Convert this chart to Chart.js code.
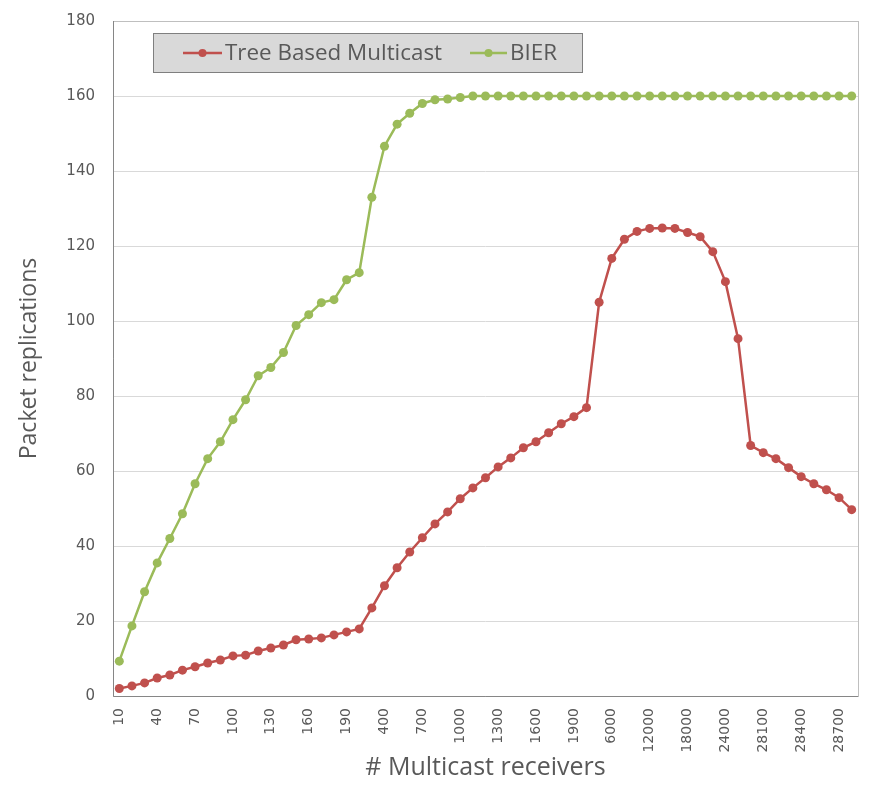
<!DOCTYPE html>
<html>
<head>
<meta charset="utf-8">
<script src="https://cdn.jsdelivr.net/npm/chart.js@4.4.1/dist/chart.umd.min.js"></script>
<style>
  html, body { margin: 0; padding: 0; background: #fff; }
  #wrap { width: 871px; height: 786px; }
</style>
</head>
<body>
<div id="wrap"><canvas id="replChart" width="871" height="786"></canvas></div>
<script>
// receivers on the x axis (category axis, only every 3rd label shown)
var receivers = [
  10, 20, 30, 40, 50, 60, 70, 80, 90, 100,
  110, 120, 130, 140, 150, 160, 170, 180, 190, 200,
  300, 400, 500, 600, 700, 800, 900, 1000, 1100, 1200,
  1300, 1400, 1500, 1600, 1700, 1800, 1900, 2000,
  4000, 6000, 8000, 10000, 12000, 14000, 16000, 18000, 20000, 22000, 24000, 26000, 28000,
  28100, 28200, 28300, 28400, 28500, 28600, 28700, 28800
];

var treeMulticast = [
  2, 2.7, 3.5, 4.8, 5.6, 6.9, 7.8, 8.8, 9.6, 10.7,
  10.9, 12, 12.8, 13.6, 15, 15.2, 15.5, 16.3, 17.1, 17.9,
  23.5, 29.4, 34.2, 38.4, 42.2, 45.9, 49.1, 52.6, 55.5, 58.2,
  61.1, 63.5, 66.2, 67.8, 70.2, 72.6, 74.5, 76.9,
  105, 116.7, 121.8, 123.9, 124.7, 124.8, 124.7, 123.6, 122.5, 118.5, 110.5, 95.3,
  66.8, 64.9, 63.3, 60.9, 58.5, 56.6, 55, 52.9, 49.7
];

var bier = [
  9.3, 18.7, 27.8, 35.5, 42, 48.6, 56.6, 63.3, 67.8, 73.7,
  79, 85.4, 87.6, 91.6, 98.8, 101.7, 104.9, 105.7, 111, 112.9,
  133, 146.6, 152.5, 155.4, 158, 159, 159.2, 159.6, 160, 160,
  160, 160, 160, 160, 160, 160, 160, 160, 160, 160,
  160, 160, 160, 160, 160, 160, 160, 160, 160, 160,
  160, 160, 160, 160, 160, 160, 160, 160, 160
];

var yTicks = [0, 20, 40, 60, 80, 100, 120, 140, 160, 180];

var RED = '#c0504d';
var GREEN = '#9bbb59';
var TEXT = '#595959';

// box around plot area + legend box inside it (like the excel one)
var frameAndLegend = {
  id: 'frameAndLegend',
  afterDraw: function(chart) {
    var ctx = chart.ctx;
    var a = chart.chartArea;
    ctx.save();
    ctx.strokeStyle = '#bfbfbf';
    ctx.lineWidth = 1;
    ctx.strokeRect(Math.round(a.left) + 0.5, Math.round(a.top) + 0.5,
      Math.round(a.right - a.left), Math.round(a.bottom - a.top));
    ctx.strokeStyle = '#868686';
    ctx.beginPath();
    ctx.moveTo(Math.round(a.left) + 0.5, a.top);
    ctx.lineTo(Math.round(a.left) + 0.5, Math.round(a.bottom) + 0.5);
    ctx.lineTo(a.right, Math.round(a.bottom) + 0.5);
    ctx.stroke();

    // legend
    ctx.fillStyle = '#d9d9d9';
    ctx.fillRect(154, 34, 428, 38);
    ctx.strokeStyle = '#7f7f7f';
    ctx.strokeRect(153.5, 33.5, 429, 39);

    var items = [
      { x0: 183, x1: 222, w: 217, text: chart.data.datasets[0].label, color: chart.data.datasets[0].borderColor },
      { x0: 470, x1: 507, w: 49, text: chart.data.datasets[1].label, color: chart.data.datasets[1].borderColor }
    ];
    var ly = 53;
    // size the legend font so the first label gets the same width as in the picture
    ctx.font = '20px "Open Sans", sans-serif';
    var fs = 20 * items[0].w / ctx.measureText(items[0].text).width;
    ctx.font = fs.toFixed(1) + 'px "Open Sans", sans-serif';
    ctx.textBaseline = 'middle';
    items.forEach(function(it) {
      ctx.strokeStyle = it.color;
      ctx.lineWidth = 2.5;
      ctx.beginPath();
      ctx.moveTo(it.x0, ly);
      ctx.lineTo(it.x1, ly);
      ctx.stroke();
      ctx.fillStyle = it.color;
      ctx.beginPath();
      ctx.arc((it.x0 + it.x1) / 2, ly, 4, 0, Math.PI * 2);
      ctx.fill();
      ctx.fillStyle = TEXT;
      ctx.fillText(it.text, it.x1 + 3, ly + 1);
    });
    ctx.restore();
  }
};

var ctx = document.getElementById('replChart').getContext('2d');
var chart = new Chart(ctx, {
  type: 'line',
  data: {
    labels: receivers,
    datasets: [
      {
        label: 'Tree Based Multicast',
        data: treeMulticast,
        borderColor: RED,
        backgroundColor: RED,
        borderWidth: 2.5,
        pointRadius: 4.5,
        pointBorderWidth: 0,
        tension: 0
      },
      {
        label: 'BIER',
        data: bier,
        borderColor: GREEN,
        backgroundColor: GREEN,
        borderWidth: 2.5,
        pointRadius: 4.5,
        pointBorderWidth: 0,
        tension: 0
      }
    ]
  },
  options: {
    responsive: false,
    animation: false,
    layout: { padding: { left: 0, right: 13, top: 21, bottom: 0 } },
    plugins: {
      legend: { display: false },
      tooltip: { enabled: false }
    },
    scales: {
      x: {
        type: 'category',
        offset: true,
        // invisible tick marks give the label gap (tick padding would also pad the chart area)
        grid: { display: true, drawOnChartArea: false, drawTicks: true, tickLength: 12,
                color: 'rgba(0,0,0,0)', tickColor: 'rgba(0,0,0,0)' },
        border: { display: false },
        ticks: {
          autoSkip: false,
          maxRotation: 90,
          minRotation: 90,
          padding: 0,
          color: TEXT,
          font: { family: 'DejaVu Sans', size: 14 },
          callback: function(val, i) {
            return i % 3 === 0 ? String(receivers[i]) : '';
          }
        },
        title: {
          display: true,
          text: '# Multicast receivers',
          color: TEXT,
          font: { family: '"Open Sans"', size: 25 },
          padding: { top: 0, bottom: 3 }
        },
        afterFit: function(scale) { scale.height = 90; }
      },
      y: {
        min: 0,
        max: 180,
        afterBuildTicks: function(scale) {
          scale.ticks = yTicks.map(function(v) { return { value: v }; });
        },
        grid: { color: '#d9d9d9', drawTicks: true, tickLength: 18, tickColor: 'rgba(0,0,0,0)', lineWidth: 1 },
        border: { display: false },
        ticks: {
          padding: 0,
          color: TEXT,
          font: { family: 'DejaVu Sans', size: 15 }
        },
        title: {
          display: true,
          text: 'Packet replications',
          color: TEXT,
          font: { family: '"Open Sans"', size: 23 },
          padding: { top: 16, bottom: 0 }
        },
        afterFit: function(scale) { scale.width = 113; }
      }
    }
  },
  plugins: [frameAndLegend]
});
</script>
</body>
</html>
